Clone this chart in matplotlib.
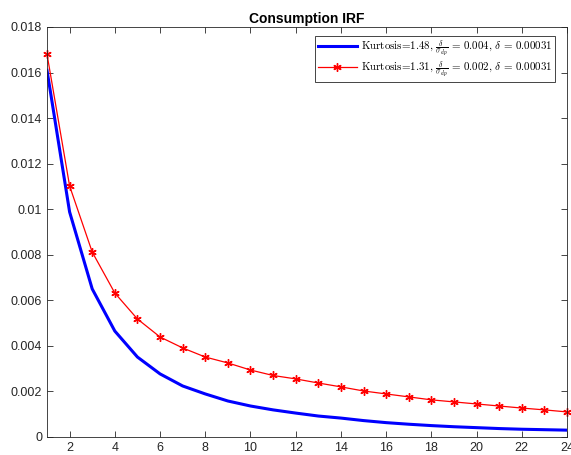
import matplotlib
matplotlib.use("Agg")
import matplotlib.pyplot as plt

horizon = list(range(1, 25))
irf_high_kurt = [0.0161, 0.00988, 0.0065, 0.00465, 0.00351, 0.00277, 0.00224, 0.00189,
                 0.00158, 0.00136, 0.00119, 0.00105, 0.00092, 0.00083, 0.00072, 0.00063,
                 0.00056, 0.00050, 0.00045, 0.00041, 0.00037, 0.00034, 0.00032, 0.00030]
irf_low_kurt = [0.01681, 0.01102, 0.00812, 0.00632, 0.00518, 0.00439, 0.00391, 0.00351,
                0.00325, 0.00294, 0.00270, 0.00255, 0.00237, 0.00220, 0.00202, 0.00189,
                0.00176, 0.00163, 0.00154, 0.00145, 0.00136, 0.00127, 0.00119, 0.00110]
label_high = r"Kurtosis=1.48, $\frac{\delta}{\sigma_{dp}}\,=\,0.004$, $\delta\,=\,0.00031$"
label_low = r"Kurtosis=1.31, $\frac{\delta}{\sigma_{dp}}\,=\,0.002$, $\delta\,=\,0.00031$"
xticks = list(range(2, 25, 2))
yticks = [0, 0.002, 0.004, 0.006, 0.008, 0.01, 0.012, 0.014, 0.016, 0.018]
ytick_labels = ["0", "0.002", "0.004", "0.006", "0.008", "0.01", "0.012", "0.014", "0.016", "0.018"]

plt.rcParams["font.family"] = ["Liberation Sans", "DejaVu Sans"]
plt.rcParams["mathtext.fontset"] = "cm"

fig = plt.figure(figsize=(5.71, 4.55), dpi=100)
ax = fig.add_axes([0.0823, 0.0396, 0.9107, 0.9011])

ax.plot(horizon, irf_high_kurt, color="#0000ff", lw=2.2, label=label_high)
ax.plot(horizon, irf_low_kurt, color="#ff0000", lw=0.9, marker=(6, 2, 0), markersize=6,
        markeredgewidth=1.0, label=label_low, clip_on=False)

ax.set_xlim(1, 24)
ax.set_ylim(0, 0.018)
ax.set_xticks(xticks)
ax.set_yticks(yticks)
ax.set_yticklabels(ytick_labels)
ax.tick_params(direction="in", top=True, right=True, labelsize=9, colors="#262626",
               length=4, width=0.6)
for s in ax.spines.values():
    s.set_color("#262626")
    s.set_linewidth(0.6)

ax.set_title("Consumption IRF", fontsize=10, fontweight="bold", pad=3)
leg = ax.legend(loc="upper right", prop={"family": ["cmr10", "DejaVu Serif"], "size": 7.9},
                fancybox=False, framealpha=1, edgecolor="#262626", borderpad=0.2,
                labelspacing=0.08, handlelength=3.6, handletextpad=0.4,
                borderaxespad=0, bbox_to_anchor=(0.977, 0.978))
leg.get_frame().set_linewidth(0.6)

fig.savefig("out.png", dpi=100)
